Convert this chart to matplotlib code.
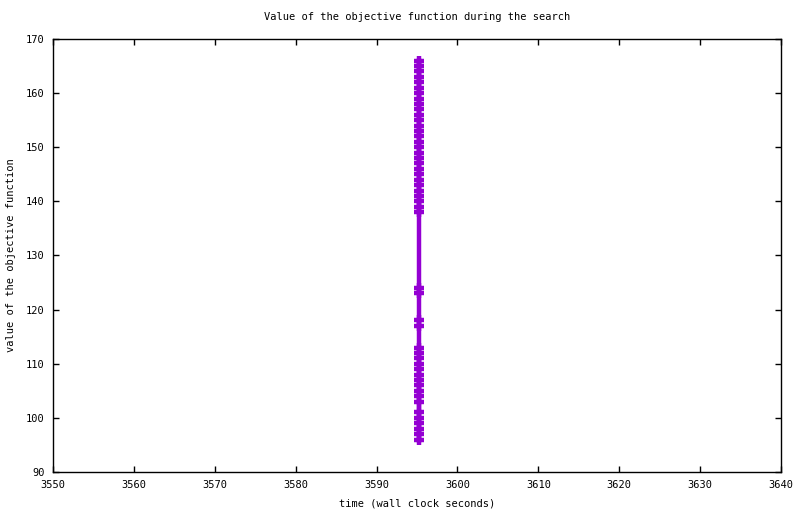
import matplotlib
matplotlib.use('Agg')
import matplotlib.pyplot as plt

# objective values found during the search (all at the same wall clock time)
t_search = 3595.2
obj_upper = list(range(166, 137, -1))
obj_mid = [124, 123, 118, 117]
obj_lower = [113, 112, 111, 110, 109, 108, 107, 106, 105, 104, 103, 101, 100, 99, 98, 97, 96]
obj_values = obj_upper + obj_mid + obj_lower
times = [t_search] * len(obj_values)

x_ticks = list(range(3550, 3641, 10))
y_ticks = list(range(90, 171, 10))

plt.rcParams['font.family'] = 'DejaVu Sans Mono'

fig = plt.figure(figsize=(8, 5.14), dpi=100)
ax = fig.add_axes([53 / 800, 42 / 514, 728 / 800, 433 / 514])

ax.plot(times, obj_values, color='#9400d3', lw=3.2, marker='+',
        markersize=7.8, markeredgewidth=3.2)

ax.set_xlim(3550, 3640)
ax.set_ylim(90, 170)
ax.set_xticks(x_ticks)
ax.set_yticks(y_ticks)
ax.tick_params(direction='in', length=4, width=1, labelsize=7.5,
               top=True, right=True, pad=6)
for s in ax.spines.values():
    s.set_linewidth(1)

ax.set_title('Value of the objective function during the search', fontsize=7.5, pad=14)
ax.set_xlabel('time (wall clock seconds)', fontsize=7.5, labelpad=6)
ax.set_ylabel('value of the objective function', fontsize=7.5, labelpad=7)

fig.savefig('out.png', dpi=100)
